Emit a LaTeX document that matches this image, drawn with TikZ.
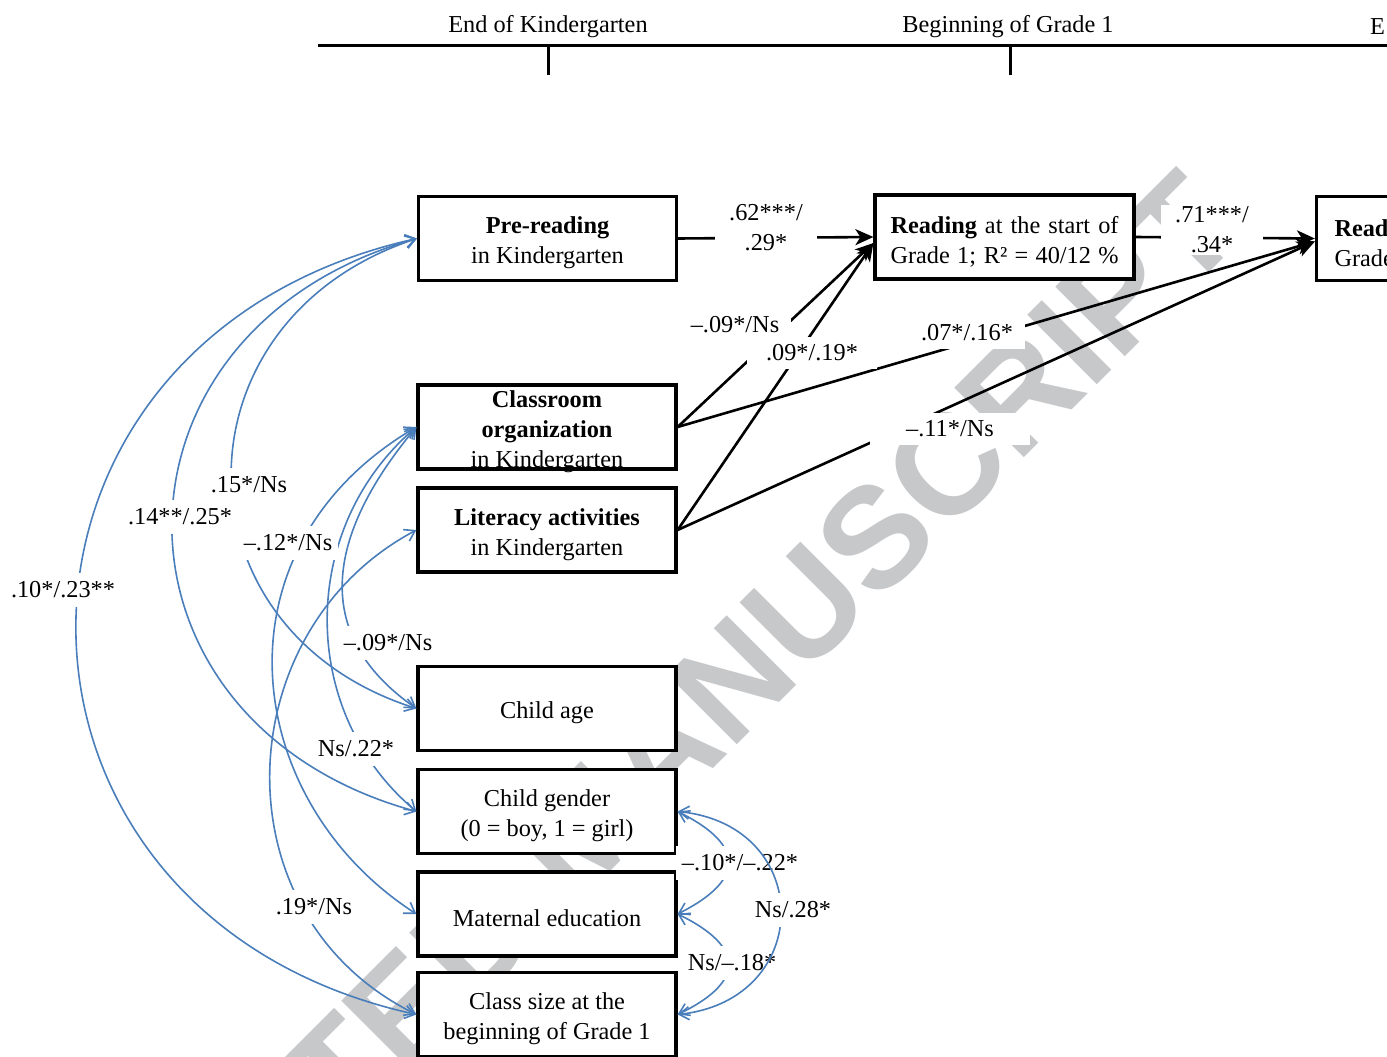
\documentclass[tikz,border=0pt]{standalone}
\usepackage{fontspec}
\setmainfont{Liberation Serif}
\newfontfamily\wmfont{Liberation Sans}
\usetikzlibrary{arrows.meta}
\definecolor{corblue}{RGB}{74,126,187}
\definecolor{wmgray}{RGB}{199,200,202}
\newcommand{\boxtop}{\rule{0pt}{26pt}}

\begin{document}
\begin{tikzpicture}
[
  x=1pt, y=-1pt,
  every node/.style={font=\fontsize{24.3}{30}\selectfont},
  box/.style={draw,line width=3.2pt,fill=white,minimum width=258pt,minimum height=84pt,inner xsep=4pt,inner ysep=0pt,align=center},
  reg/.style={line width=2.6pt,-{Stealth[length=18pt,width=16pt,inset=5pt]}},
  cor/.style={corblue,line width=1.6pt,{Straight Barb[length=10pt,width=13pt]}-{Straight Barb[length=10pt,width=13pt]}},
  lbl/.style={fill=white,inner xsep=6pt,inner ysep=9pt,align=center},
  axisline/.style={line width=3pt}
]

\useasboundingbox (0,0) rectangle (1387,1057);
\clip (0,0) rectangle (1387,1057);

% watermark
\node[wmgray,font=\wmfont\bfseries\fontsize{143}{150}\selectfont,rotate=45,anchor=base west,inner sep=0pt] (wm) at (343,1139) {TED MANUSCRIPT};

% time line
\draw[axisline] (318,46) -- (1390,46);
\draw[axisline] (548,46) -- (548,75);
\draw[axisline] (1010,46) -- (1010,75);
\node (t1) at (548,27) {End of Kindergarten};
\node (t2) at (1008,27) {Beginning of Grade 1};
\node[anchor=west,inner sep=0pt] (t3) at (1370,27) {E};

% measures
\node[box] (pre) at (547.5,238.5) {\boxtop\textbf{Pre-reading}\\in Kindergarten};
\node[box,minimum width=259pt] (rd1) at (1004.5,237) {\boxtop\makebox[228pt][s]{\textbf{Reading} at the start of}\\\makebox[228pt][s]{Grade 1; R² = 40/12 \%}};
\node[box,text width=222pt,align=left,inner xsep=18pt] (rd2) at (1445.5,238.5) {\boxtop\textbf{Read}\\Grade};
\node[box,inner ysep=-4pt] (org) at (547,427) {\boxtop\textbf{Classroom}\\\textbf{organization}\\in Kindergarten};
\node[box] (lit) at (547,530) {\boxtop\textbf{Literacy activities}\\in Kindergarten};
\node[box] (age) at (547,708.5) {\boxtop Child age};
\node[box] (gen) at (547,811.5) {\boxtop Child gender\\(0 = boy, 1 = girl)};
\node[box] (mat) at (547,914) {\boxtop Maternal education};
\node[box] (cls) at (547,1014.5) {\boxtop Class size at the\\beginning of Grade 1};

% paths
\draw[reg] (pre.east) -- (rd1.west);
\draw[reg] (rd1.east) -- (rd2.west);
\draw[reg] (org.east) -- ([yshift=-6pt]rd1.west);
\draw[reg] (lit.east) -- ([yshift=-6pt]rd1.west);
\draw[reg] (org.east) -- ([yshift=-3pt]rd2.west);
\draw[reg] (lit.east) -- ([yshift=-3pt]rd2.west);

% correlations
\draw[cor] (pre.west) .. controls (-37,340) and (-37,915) .. (cls.west);
\draw[cor] (pre.west) .. controls (91,330) and (91,722) .. (gen.west);
\draw[cor] (pre.west) .. controls (170,320) and (170,630) .. (age.west);
\draw[cor] (org.west) .. controls (210,548) and (240,800) .. (mat.west);
\draw[cor] (org.west) .. controls (298,528) and (298,712) .. (gen.west);
\draw[cor] (org.west) .. controls (318,545) and (318,640) .. (age.west);
\draw[cor] (lit.west) .. controls (228,630) and (215,915) .. (cls.west);
\draw[cor] (gen.east) .. controls (745,845) and (745,880) .. (mat.east);
\draw[cor] (mat.east) .. controls (745,947) and (745,982) .. (cls.east);

% coefficients
\node[lbl,inner xsep=14pt,inner ysep=2pt] (c1) at (766,228) {.62***/\\.29*};
\node[lbl,inner xsep=14pt,inner ysep=2pt] (c2) at (1212,230) {.71***/\\.34*};
\node[lbl,inner xsep=12pt,inner ysep=8pt] (c3) at (735,325) {–.09*/Ns};
\node[lbl,inner xsep=19pt,inner ysep=8pt] (c4) at (812,353) {.09*/.19*};
\node[lbl,inner xsep=12pt,inner ysep=8pt] (c5) at (967,333) {.07*/.16*};
\node[lbl,inner xsep=36pt,inner ysep=8pt] (c6) at (950,429) {–.11*/Ns};
\node[lbl] (c7) at (249,485) {.15*/Ns};
\node[lbl] (c8) at (180,517) {.14**/.25*};
\node[lbl] (c9) at (288,543) {–.12*/Ns};
\node[lbl] (c10) at (63,590) {.10*/.23**};
\node[lbl] (c11) at (388,643) {–.09*/Ns};
\node[lbl] (c12) at (356,749) {Ns/.22*};
\node[lbl] (c13) at (314,907) {.19*/Ns};
\node[lbl] (c14) at (740,863) {–.10*/–.22*};
\node[lbl] (c15) at (732,963) {Ns/–.18*};

\draw[cor] (gen.east) .. controls (815,825) and (815,1000) .. (cls.east);
\node[lbl] (c16) at (793,910) {Ns/.28*};

\end{tikzpicture}
\end{document}
